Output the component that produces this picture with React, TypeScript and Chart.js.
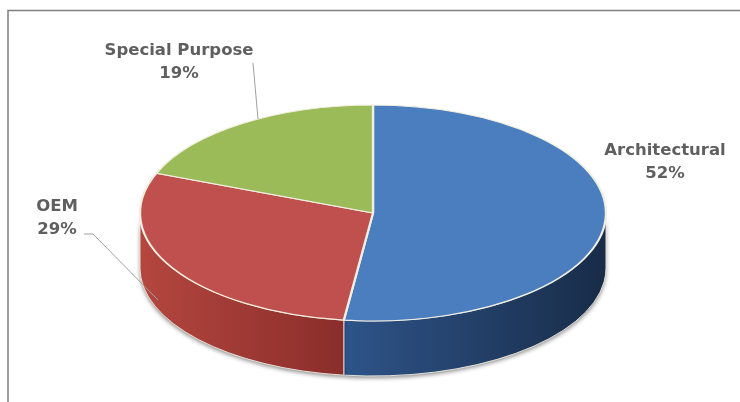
import React, { useEffect, useRef } from "react";
import { Chart, registerables } from "chart.js";

Chart.register(...registerables);

const categories = ["Architectural", "OEM", "Special Purpose"];
const values = [52, 29, 19];
const topColors = ["#4a7ebf", "#c0504d", "#9bbb59"];
const sideColorsLight = ["#2e5489", "#b4463f", "#7f9b45"];
const sideColorsDark = ["#182c48", "#8a2d2a", "#6a8237"];

// layout constants (positions of the flattened pie and labels)
const CX = 373;
const CY = 213;
const RX = 233;
const RY = 108;
const DEPTH = 55;
const labelPos = [
  { x: 665, y: 142, lx: null as null | number[] },
  { x: 57, y: 198, lx: [84, 234, 93, 234, 158, 300] },
  { x: 179, y: 42, lx: [253, 63, 258, 119] },
];

const pie3d = {
  id: "pie3d",
  beforeDatasetsDraw(chart: any) {
    const ctx = chart.ctx as CanvasRenderingContext2D;
    const meta = chart.getDatasetMeta(0);
    const arcs = meta.data;
    if (!arcs.length) return;
    arcs.forEach((arc: any, i: number) => {
      const a1 = Math.max(arc.startAngle, 0);
      const a2 = Math.min(arc.endAngle, Math.PI);
      if (a2 <= a1) return;
      const xa = CX + RX * Math.cos(a1);
      const xb = CX + RX * Math.cos(a2);
      const g = ctx.createLinearGradient(Math.min(xa, xb), 0, Math.max(xa, xb), 0);
      g.addColorStop(0, sideColorsLight[i]);
      g.addColorStop(1, sideColorsDark[i]);
      ctx.save();
      ctx.beginPath();
      ctx.ellipse(CX, CY, RX, RY, 0, a1, a2, false);
      ctx.lineTo(CX + RX * Math.cos(a2), CY + RY * Math.sin(a2) + DEPTH);
      ctx.ellipse(CX, CY + DEPTH, RX, RY, 0, a2, a1, true);
      ctx.closePath();
      ctx.shadowColor = "rgba(0,0,0,0.45)";
      ctx.shadowBlur = 4;
      ctx.shadowOffsetY = 2;
      ctx.fillStyle = g;
      ctx.fill();
      ctx.shadowColor = "transparent";
      ctx.strokeStyle = "rgba(240,235,225,0.9)";
      ctx.lineWidth = 1;
      ctx.stroke();
      ctx.restore();
    });
    const a0 = arcs[0];
    const r = a0.outerRadius;
    ctx.save();
    ctx.translate(CX, CY);
    ctx.scale(RX / r, RY / r);
    ctx.translate(-a0.x, -a0.y);
  },
  afterDatasetsDraw(chart: any) {
    chart.ctx.restore();
  },
  afterDraw(chart: any) {
    const ctx = chart.ctx as CanvasRenderingContext2D;
    ctx.save();
    ctx.strokeStyle = "#7f7f7f";
    ctx.lineWidth = 1.5;
    ctx.strokeRect(8, 10.5, 800, 500);
    const total = values.reduce((a, b) => a + b, 0);
    ctx.font = "bold 16.5px 'DejaVu Sans'";
    ctx.fillStyle = "#5f5f5f";
    ctx.textAlign = "center";
    ctx.textBaseline = "top";
    categories.forEach((c, i) => {
      const p = labelPos[i];
      ctx.fillText(c, p.x, p.y);
      ctx.fillText(Math.round((values[i] / total) * 100) + "%", p.x, p.y + 23);
      if (p.lx) {
        ctx.beginPath();
        ctx.moveTo(p.lx[0], p.lx[1]);
        for (let k = 2; k < p.lx.length; k += 2) ctx.lineTo(p.lx[k], p.lx[k + 1]);
        ctx.strokeStyle = "#a0a0a0";
        ctx.lineWidth = 1;
        ctx.stroke();
      }
    });
    ctx.restore();
  },
};

export default function App() {
  const ref = useRef<HTMLCanvasElement>(null);
  useEffect(() => {
    document.body.style.margin = "0";
    const chart = new Chart(ref.current!, {
      type: "pie",
      data: {
        labels: categories,
        datasets: [
          {
            data: values,
            backgroundColor: topColors,
            borderColor: "#f1eee2",
            borderWidth: 2,
            clip: false,
          } as any,
        ],
      },
      options: {
        responsive: false,
        animation: false,
        rotation: 0,
        plugins: { legend: { display: false }, tooltip: { enabled: false } },
      },
      plugins: [pie3d],
    });
    return () => chart.destroy();
  }, []);
  return (
    <div style={{ width: 740, height: 402, background: "#fff" }}>
      <canvas ref={ref} width={740} height={402} style={{ display: "block" }} />
    </div>
  );
}
